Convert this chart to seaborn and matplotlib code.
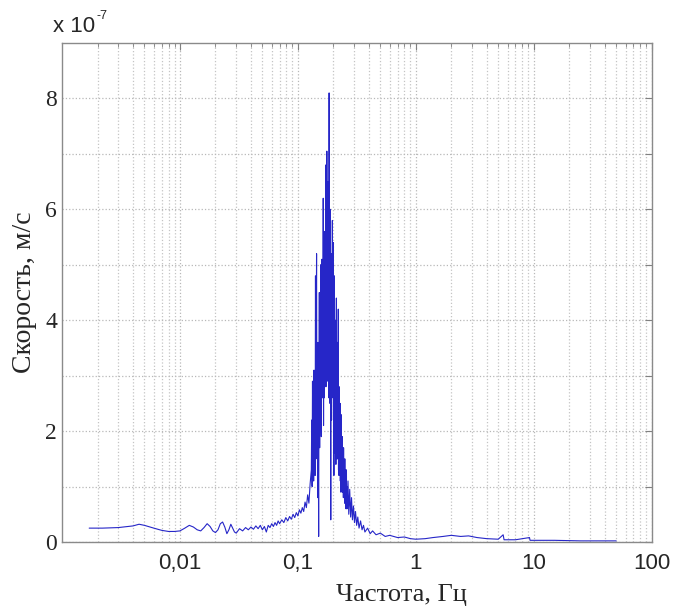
import pandas as pd
import seaborn as sns
import matplotlib.pyplot as plt
from matplotlib.ticker import FixedLocator, LogLocator, NullFormatter

# spectrum: frequency (Hz) and velocity (x 1e-7 m/s)
freq_low = [0.0017, 0.0022, 0.003, 0.004, 0.0045, 0.005, 0.006, 0.007, 0.008,
            0.009, 0.010, 0.011, 0.012, 0.013, 0.014, 0.015, 0.016, 0.017,
            0.018, 0.019, 0.020, 0.021, 0.022, 0.023, 0.024, 0.025, 0.026,
            0.027, 0.028, 0.029, 0.030, 0.032, 0.034, 0.036, 0.038, 0.040,
            0.042, 0.044, 0.046, 0.048, 0.050, 0.052, 0.054, 0.056, 0.058,
            0.060, 0.062, 0.064, 0.066, 0.068, 0.070, 0.073, 0.076, 0.079,
            0.082, 0.085, 0.088, 0.091, 0.094, 0.097, 0.100, 0.103, 0.106,
            0.109, 0.112, 0.115, 0.118, 0.121, 0.124, 0.127]
vel_low = [0.25, 0.25, 0.26, 0.29, 0.32, 0.30, 0.25, 0.21, 0.19,
           0.19, 0.20, 0.25, 0.30, 0.27, 0.22, 0.20, 0.26, 0.33,
           0.28, 0.20, 0.17, 0.22, 0.33, 0.36, 0.27, 0.15, 0.22,
           0.32, 0.25, 0.18, 0.16, 0.24, 0.20, 0.26, 0.22, 0.27,
           0.23, 0.29, 0.24, 0.30, 0.22, 0.28, 0.18, 0.30, 0.26,
           0.33, 0.28, 0.35, 0.30, 0.38, 0.33, 0.40, 0.35, 0.44,
           0.38, 0.46, 0.41, 0.50, 0.44, 0.53, 0.47, 0.58, 0.52,
           0.62, 0.55, 0.72, 0.62, 0.85, 0.70, 1.05]

freq_peak = [0.130, 0.131, 0.132, 0.133, 0.134, 0.135, 0.136, 0.137, 0.138,
             0.139, 0.140, 0.141, 0.142, 0.143, 0.144, 0.145, 0.146, 0.147,
             0.148, 0.149, 0.150, 0.151, 0.152, 0.153, 0.154, 0.155, 0.156,
             0.157, 0.158, 0.159, 0.160, 0.161, 0.162, 0.163, 0.164, 0.165,
             0.166, 0.167, 0.168, 0.169, 0.170, 0.171, 0.172, 0.173, 0.174,
             0.175, 0.176, 0.177, 0.178, 0.179, 0.180, 0.181, 0.182, 0.183,
             0.184, 0.185, 0.186, 0.187, 0.188, 0.189, 0.190, 0.191, 0.192,
             0.193, 0.194, 0.195, 0.196, 0.197, 0.198, 0.199, 0.200, 0.201,
             0.202, 0.203, 0.204, 0.205, 0.206, 0.207, 0.208, 0.209, 0.210,
             0.211, 0.212, 0.213, 0.214, 0.215, 0.216, 0.217, 0.218, 0.219,
             0.220, 0.221, 0.222, 0.223, 0.224, 0.225, 0.226, 0.227, 0.228,
             0.229, 0.230, 0.231, 0.232, 0.233, 0.234, 0.235, 0.236, 0.237,
             0.238, 0.239, 0.240, 0.241, 0.242, 0.243, 0.244, 0.245, 0.246,
             0.247, 0.248, 0.249, 0.250, 0.251, 0.252, 0.253, 0.254, 0.255,
             0.256, 0.257, 0.258, 0.259, 0.260, 0.262, 0.266, 0.270, 0.275,
             0.280, 0.285, 0.290, 0.296, 0.302, 0.308, 0.315, 0.322, 0.330,
             0.340, 0.350]
vel_peak = [1.3, 2.2, 1.0, 2.9, 1.4, 2.6, 1.1, 3.1, 1.8,
            2.4, 1.2, 4.8, 2.0, 3.5, 5.2, 1.5, 3.0, 0.8,
            3.6, 1.9, 0.1, 2.8, 4.5, 1.7, 3.9, 2.2, 5.0,
            2.4, 1.9, 4.2, 5.1, 2.6, 4.0, 3.0, 6.2, 2.1,
            4.6, 2.6, 5.6, 3.1, 4.4, 3.4, 6.8, 2.8, 5.0,
            3.6, 7.05, 2.9, 5.3, 4.0, 6.5, 3.2, 5.8, 2.6,
            8.1, 3.4, 5.1, 2.5, 6.0, 2.9, 0.4, 4.1, 5.2,
            2.2, 4.6, 2.6, 5.8, 3.0, 4.3, 3.5, 5.4, 2.3,
            1.2, 3.7, 4.8, 2.0, 3.4, 1.6, 4.0, 2.2, 1.4,
            3.1, 4.4, 1.9, 2.9, 1.5, 3.6, 1.8, 1.5, 2.7,
            4.2, 1.3, 2.4, 1.2, 2.8, 1.5, 2.1, 1.4, 2.5,
            1.1, 1.9, 0.9, 2.3, 1.2, 1.8, 1.1, 1.6, 0.9,
            1.9, 1.0, 1.5, 0.9, 1.6, 0.8, 1.7, 1.0, 1.3,
            0.8, 1.4, 0.7, 1.5, 0.8, 1.2, 0.7, 1.3, 0.6,
            1.1, 0.7, 1.3, 0.6, 1.0, 0.6, 1.1, 0.5, 0.95,
            0.45, 0.8, 0.4, 0.65, 0.35, 0.55, 0.3, 0.45, 0.25,
            0.38, 0.22]

freq_high = [0.36, 0.37, 0.39, 0.41, 0.43, 0.46, 0.5, 0.55, 0.6, 0.7, 0.8,
             0.9, 1.0, 1.2, 1.4, 1.7, 2.0, 2.4, 2.8, 3.3, 4.0, 5.0, 5.5, 5.6,
             7.0, 9.2, 9.3, 15.0, 25.0, 50.0]
vel_high = [0.30, 0.18, 0.25, 0.15, 0.20, 0.13, 0.16, 0.10, 0.12, 0.08, 0.09,
            0.06, 0.05, 0.06, 0.08, 0.10, 0.12, 0.10, 0.11, 0.08, 0.06, 0.05,
            0.13, 0.04, 0.04, 0.08, 0.03, 0.03, 0.02, 0.02]

x_ticks = [0.01, 0.1, 1, 10, 100]
x_tick_labels = ['0,01', '0,1', '1', '10', '100']
y_ticks = [0, 1, 2, 3, 4, 5, 6, 7, 8]
y_tick_labels = ['0', '', '2', '', '4', '', '6', '', '8']


def main():
    sns.set_style('white')
    plt.rcParams['font.family'] = ['Liberation Sans', 'DejaVu Sans']

    df = pd.DataFrame({'freq': freq_low + freq_peak + freq_high,
                       'vel': vel_low + vel_peak + vel_high})

    fig = plt.figure(figsize=(6.86, 6.12), dpi=100)
    ax = fig.add_axes([0.0904, 0.1144, 0.8596, 0.8153])
    sns.lineplot(data=df, x='freq', y='vel', ax=ax, estimator=None, sort=False,
                 color='#2626c8', linewidth=0.8)

    ax.set_xscale('log')
    ax.set_xlim(0.001, 100)
    ax.set_ylim(0, 9)
    ax.xaxis.set_major_locator(FixedLocator(x_ticks))
    ax.set_xticklabels(x_tick_labels)
    ax.xaxis.set_minor_locator(LogLocator(base=10, subs=range(2, 10), numticks=20))
    ax.xaxis.set_minor_formatter(NullFormatter())
    ax.yaxis.set_major_locator(FixedLocator(y_ticks))
    ax.set_yticklabels(y_tick_labels, family='Liberation Serif', fontsize=17)

    ax.grid(which='major', axis='both', color='#b8b8b8', linestyle=':', linewidth=0.9)
    ax.grid(which='minor', axis='x', color='#c4c4c4', linestyle=':', linewidth=0.9)
    ax.tick_params(which='both', direction='in', top=True, right=True,
                   color='#808080')
    ax.tick_params(which='major', length=5)
    ax.tick_params(which='minor', length=3)
    ax.tick_params(axis='x', labelsize=16, pad=8)
    for s in ax.spines.values():
        s.set_color('#8a8a8a')
        s.set_linewidth(1.0)

    ax.set_xlabel('Частота, Гц', family='Liberation Serif', fontsize=19,
                  labelpad=8)
    ax.xaxis.set_label_coords(0.575, -0.085)
    ax.set_ylabel('Скорость, м/с', family='Liberation Serif', fontsize=20,
                  labelpad=6)
    ax.text(-0.015, 1.012, 'x 10', transform=ax.transAxes,
            fontsize=16, ha='left', va='bottom')
    ax.text(0.058, 1.042, '-7', transform=ax.transAxes,
            fontsize=9, ha='left', va='bottom')

    fig.savefig('out.png', dpi=100, facecolor='white')


if __name__ == '__main__':
    main()
